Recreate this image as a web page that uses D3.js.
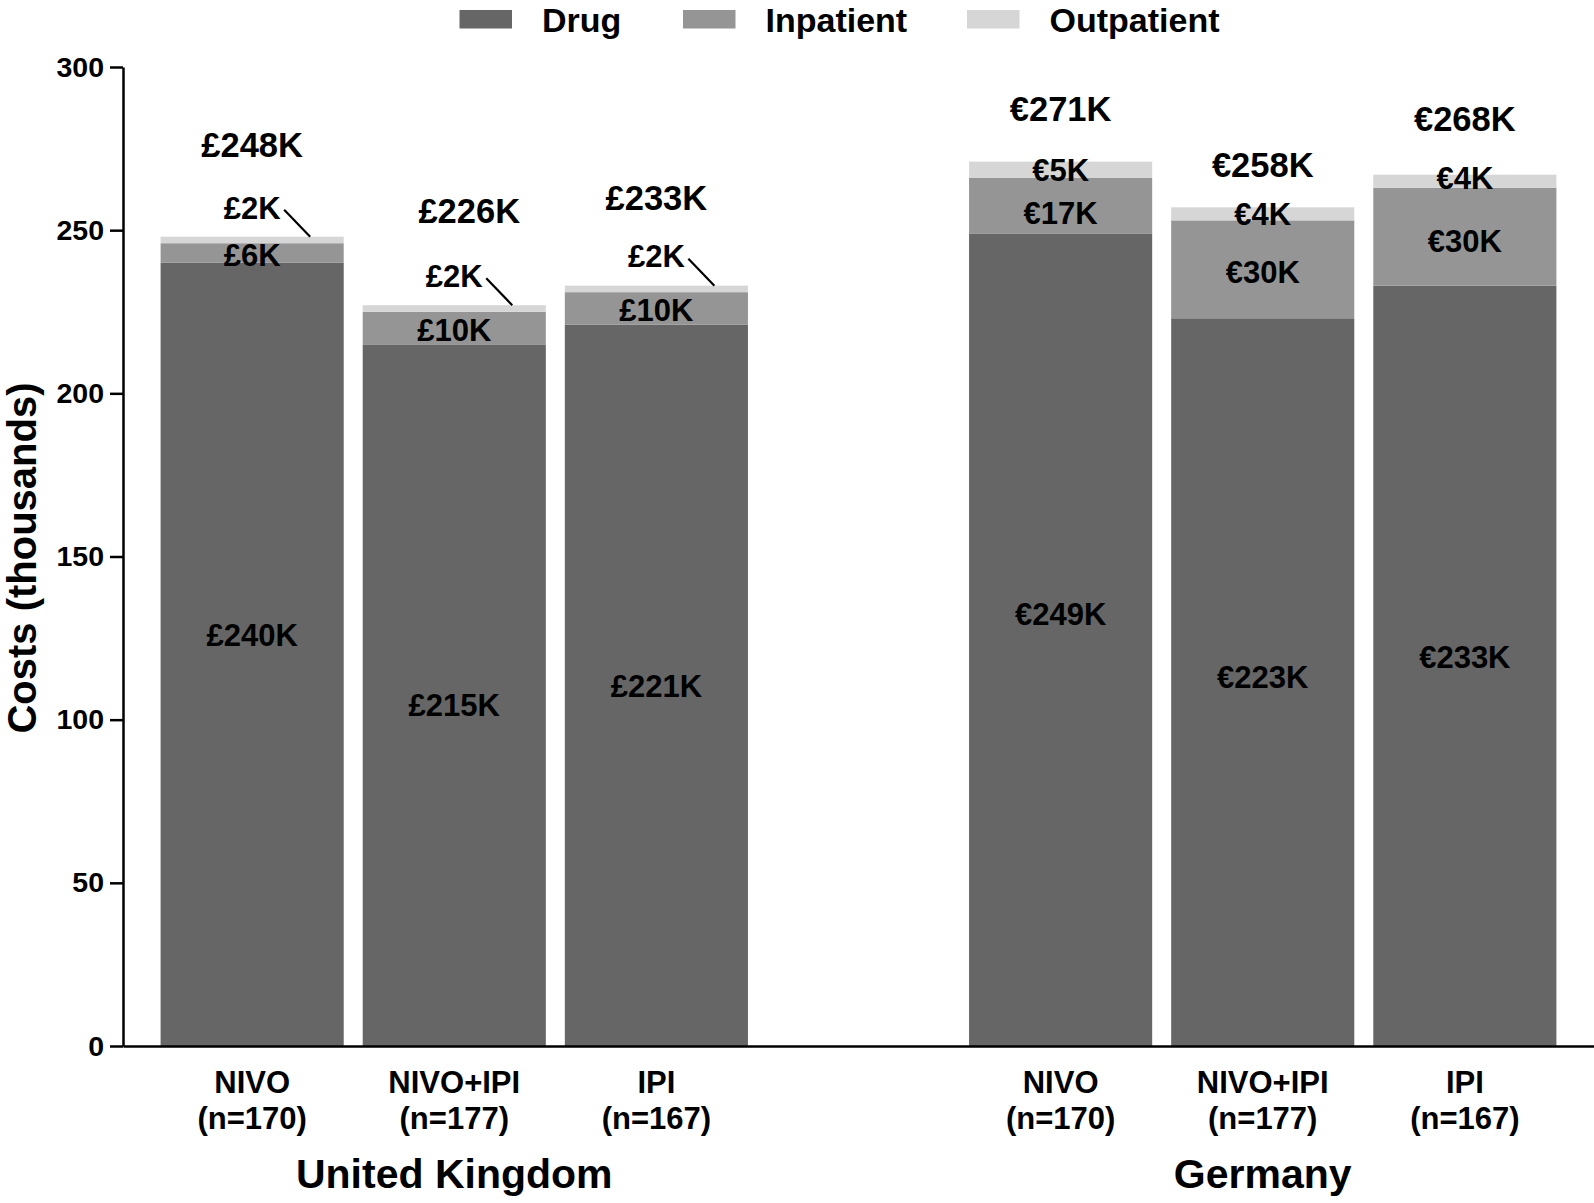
<!DOCTYPE html>
<html><head><meta charset="utf-8">
<script src="https://cdn.jsdelivr.net/npm/d3@7"></script>
<style>
html,body{margin:0;padding:0;background:#fff;}
text{font-family:"Liberation Sans",Arial,Helvetica,sans-serif;font-weight:bold;fill:#000;}
</style></head>
<body>
<svg id="chart" width="1594" height="1203"></svg>
<script>
// ---- data ----
const countries = ["United Kingdom", "Germany"];
const currency = ["£", "€"];
const categories = ["NIVO", "NIVO+IPI", "IPI"];
const nLabels = ["(n=170)", "(n=177)", "(n=167)"];
const seriesNames = ["Drug", "Inpatient", "Outpatient"];
// order: UK NIVO, UK NIVO+IPI, UK IPI, DE NIVO, DE NIVO+IPI, DE IPI
const drug = [240, 215, 221, 249, 223, 233];
const inpatient = [6, 10, 10, 17, 30, 30];
const outpatient = [2, 2, 2, 5, 4, 4];
const totals = [248, 226, 233, 271, 258, 268];
const yTicks = [0, 50, 100, 150, 200, 250, 300];

// ---- style / layout (annotation nudges in px) ----
const colors = ["#666666", "#959595", "#d6d6d6"];
const drugLabelNudge = [-19, 10, 1, -26, -5, -9];
const inpLabelNudge = [2, 2, 2, 7, 3, 4];
const outLabelNudge = [0, 0, 0, 0, 0, -3];
const totalNudgeY = [-1, -3, 3, -3, 8, -6];
const totalNudgeX = [0, 15, 0, 0, 0, 0];

const svg = d3.select("#chart");
const mLeft = 123, mRight = 1594, mTop = 67, mBottom = 1046;

const slots = ["UK0", "UK1", "UK2", "gap", "DE0", "DE1", "DE2"];
const slotOf = i => (i < 3 ? "UK" + i : "DE" + (i - 3));

const x = d3.scaleBand().domain(slots).range([mLeft, mRight])
  .paddingInner(0.094).paddingOuter(0.186);
const y = d3.scaleLinear().domain([0, 300]).range([mBottom, mTop]);

const rows = drug.map((d, i) => ({
  key: slotOf(i), ci: i < 3 ? 0 : 1, cat: i % 3,
  Drug: d, Inpatient: inpatient[i], Outpatient: outpatient[i], total: totals[i]
}));
const stack = d3.stack().keys(seriesNames)(rows);

// bars
const g = svg.append("g");
stack.forEach((layer, li) => {
  g.selectAll(null).data(layer).join("rect")
    .attr("x", d => x(d.data.key))
    .attr("width", x.bandwidth())
    .attr("y", d => y(d[1]))
    .attr("height", d => y(d[0]) - y(d[1]))
    .attr("fill", colors[li]);
});

// y axis
const yAxis = svg.append("g").attr("transform", `translate(${mLeft},0)`)
  .call(d3.axisLeft(y).tickValues(yTicks).tickSize(13).tickSizeOuter(0).tickPadding(6));
yAxis.select(".domain").attr("stroke", "#000").attr("stroke-width", 2.5);
yAxis.selectAll(".tick line").attr("stroke", "#000").attr("stroke-width", 2.5);
yAxis.selectAll(".tick text").attr("font-size", 28.5).attr("font-family", "Liberation Sans, Arial, sans-serif").attr("font-weight", "bold");

// x axis line
const xAxis = svg.append("g").attr("transform", `translate(0,${mBottom})`)
  .call(d3.axisBottom(x).tickValues([]).tickSizeOuter(0));
xAxis.select(".domain").attr("stroke", "#000").attr("stroke-width", 2.5);

// category labels
rows.forEach(r => {
  const cx = x(r.key) + x.bandwidth() / 2;
  svg.append("text").attr("x", cx).attr("y", 1082).attr("dy", "0.35em")
    .attr("text-anchor", "middle").attr("font-size", 31).text(categories[r.cat]);
  svg.append("text").attr("x", cx).attr("y", 1118).attr("dy", "0.35em")
    .attr("text-anchor", "middle").attr("font-size", 31).text(nLabels[r.cat]);
});
// country labels
countries.forEach((c, ci) => {
  const key = ci === 0 ? "UK1" : "DE1";
  svg.append("text").attr("x", x(key) + x.bandwidth() / 2).attr("y", 1174).attr("dy", "0.35em")
    .attr("text-anchor", "middle").attr("font-size", 41).text(c);
});

// y axis title
svg.append("text").attr("transform", `translate(22,558) rotate(-90)`)
  .attr("dy", "0.35em").attr("text-anchor", "middle").attr("font-size", 40)
  .text("Costs (thousands)");

// value labels
rows.forEach((r, i) => {
  const cx = x(r.key) + x.bandwidth() / 2;
  const cur = currency[r.ci];
  const d0 = 0, d1 = r.Drug, i1 = d1 + r.Inpatient, o1 = i1 + r.Outpatient;
  const lbl = (yy, txt, size, dx) => svg.append("text").attr("x", cx + (dx || 0)).attr("y", yy)
    .attr("dy", "0.35em").attr("text-anchor", "middle").attr("font-size", size).text(txt);
  lbl((y(d0) + y(d1)) / 2 + drugLabelNudge[i], cur + r.Drug + "K", 31);
  lbl((y(d1) + y(i1)) / 2 + inpLabelNudge[i], cur + r.Inpatient + "K", 31);
  if (r.ci === 0) {
    const ly = y(o1) - 29;
    lbl(ly, cur + r.Outpatient + "K", 31);
    svg.append("line").attr("x1", cx + 32).attr("y1", ly + 2)
      .attr("x2", cx + 58).attr("y2", y(o1))
      .attr("stroke", "#000").attr("stroke-width", 2.2);
    lbl(y(o1) - 91 + totalNudgeY[i], cur + r.total + "K", 34.5, totalNudgeX[i]);
  } else {
    lbl((y(i1) + y(o1)) / 2 + outLabelNudge[i], cur + r.Outpatient + "K", 31);
    lbl(y(o1) - 50 + totalNudgeY[i], cur + r.total + "K", 34.5, totalNudgeX[i]);
  }
});

// legend
const legX = [459.5, 683, 967];
seriesNames.forEach((s, i) => {
  svg.append("rect").attr("x", legX[i]).attr("y", 10).attr("width", 52.5).attr("height", 18.5).attr("fill", colors[i]);
  svg.append("text").attr("x", legX[i] + 82.5).attr("y", 20).attr("dy", "0.35em")
    .attr("font-size", 34).text(s);
});
</script>
</body></html>
